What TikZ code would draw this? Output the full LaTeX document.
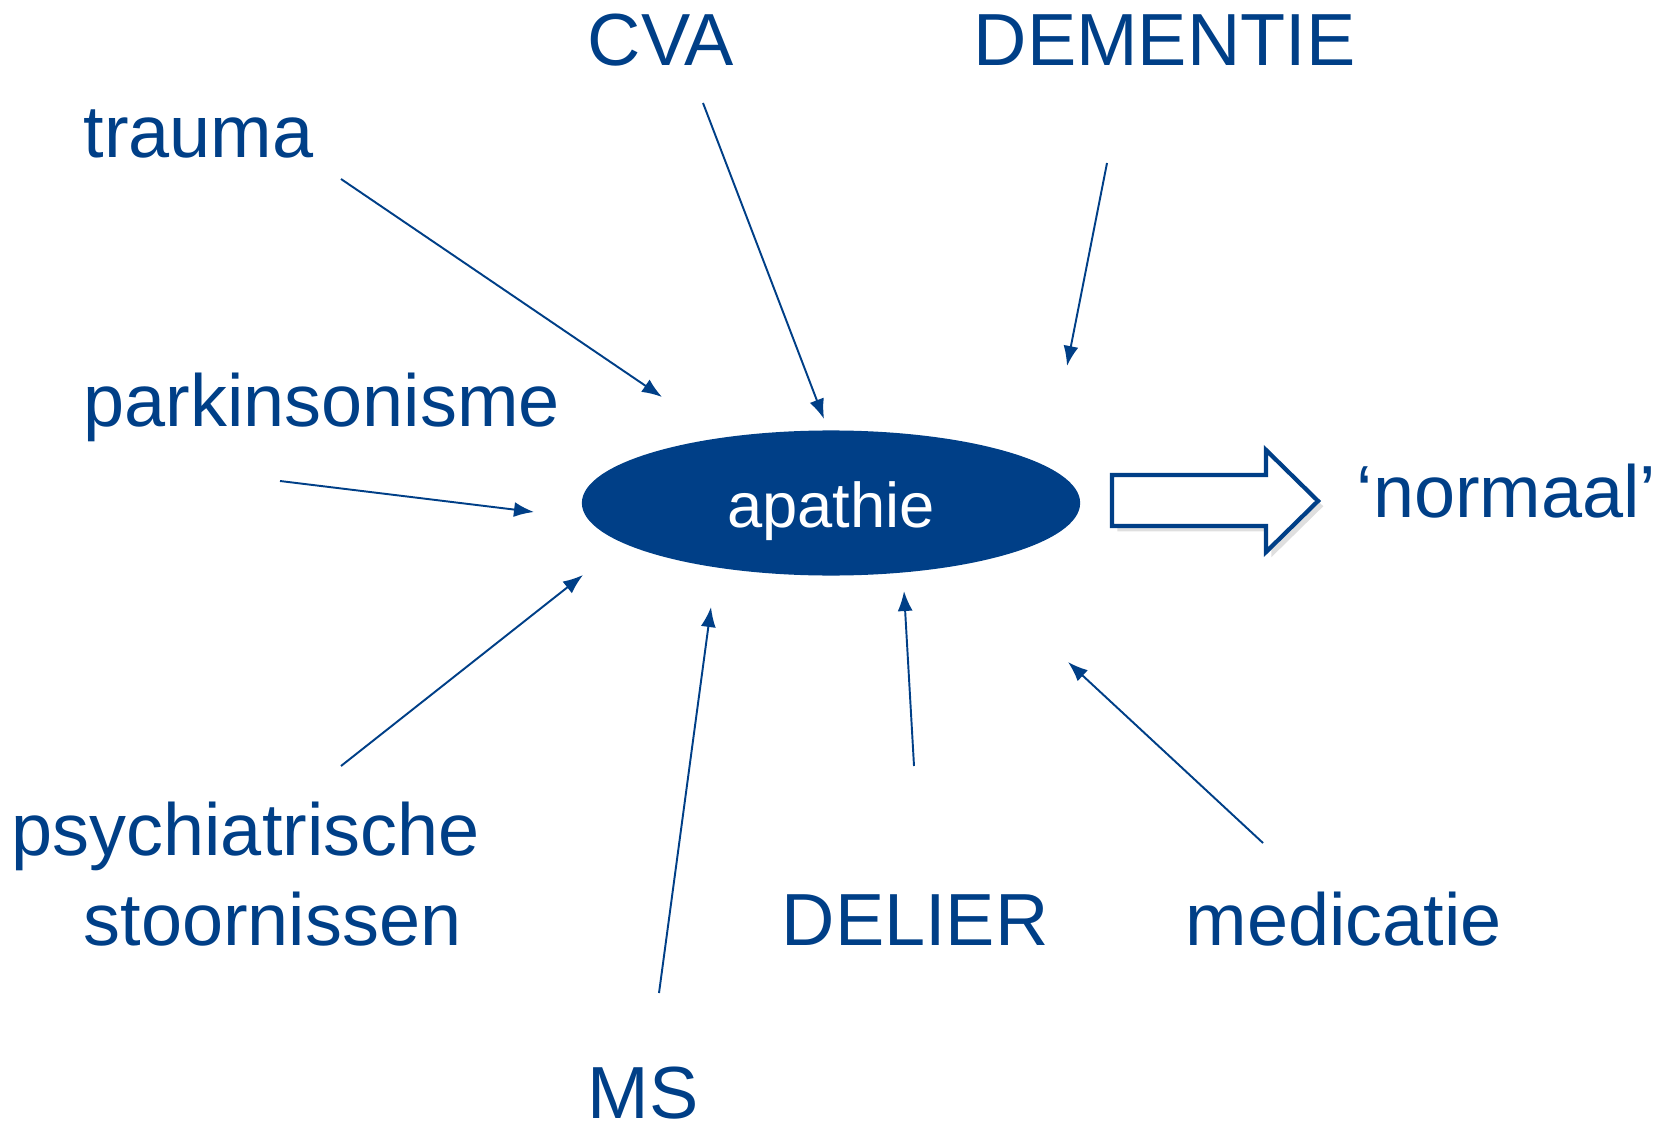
\documentclass[tikz,border=0pt]{standalone}
\usepackage{fontspec}
\setmainfont{Liberation Sans}
\usetikzlibrary{arrows.meta,shapes.geometric,shadows}
\definecolor{apblue}{RGB}{0,63,135}

\begin{document}
\begin{tikzpicture}[x=0.01cm,y=-0.01cm,
  cause/.style={text=apblue,inner sep=0pt,anchor=base west,font=\fontsize{21}{25}\selectfont},
  link/.style={draw=apblue,line width=0.55pt,-{Latex[length=2mm,width=1.5mm]}}]
\useasboundingbox (0,0) rectangle (1671,1128);

\node[ellipse,fill=apblue,minimum width=4.98cm,minimum height=1.45cm,inner sep=0pt] (apathie) at (831,503) {};
\node[text=white,inner sep=0pt,anchor=base,font=\fontsize{18}{22}\selectfont] (apathietxt) at (831,527) {apathie};

\node[cause] (trauma) at (83,158) {trauma};
\node[cause] (cva) at (587,66) {CVA};
\node[cause] (dementie) at (973,66) {DEMENTIE};
\node[cause] (parkinson) at (83,426) {parkinsonisme};
\node[cause] (psych1) at (11,855) {psychiatrische};
\node[cause] (psych2) at (83,945) {stoornissen};
\node[cause] (delier) at (781,945) {DELIER};
\node[cause] (medicatie) at (1185,945) {medicatie};
\node[cause] (ms) at (587,1118) {MS};
\node[cause] (normaal) at (1356,517) {`normaal'};

% begin- en eindpunten van de pijlen
\coordinate (t1) at (341,179);  \coordinate (t2) at (662,397);
\coordinate (c1) at (703,103);  \coordinate (c2) at (824,419);
\coordinate (d1) at (1107,163); \coordinate (d2) at (1067,366);
\coordinate (p1) at (280,481);  \coordinate (p2) at (534,512);
\coordinate (s1) at (341,766);  \coordinate (s2) at (583,575);
\coordinate (m1) at (659,993);  \coordinate (m2) at (711,607);
\coordinate (l1) at (914,766);  \coordinate (l2) at (904,591);
\coordinate (e1) at (1263,843); \coordinate (e2) at (1068,662);

\draw[link] (t1)--(t2);
\draw[link] (c1)--(c2);
\draw[link] (d1)--(d2);
\draw[link] (p1)--(p2);
\draw[link] (s1)--(s2);
\draw[link] (m1)--(m2);
\draw[link] (l1)--(l2);
\draw[link] (e1)--(e2);

\draw[apblue,line width=1.2pt,fill=white,line join=miter,
  drop shadow={opacity=0.25,shadow xshift=1.5pt,shadow yshift=-1.5pt}]
  (1112,475) -- (1266,475) -- (1266,450) -- (1318,501) -- (1266,552) -- (1266,526) -- (1112,526) -- cycle;
\end{tikzpicture}
\end{document}
